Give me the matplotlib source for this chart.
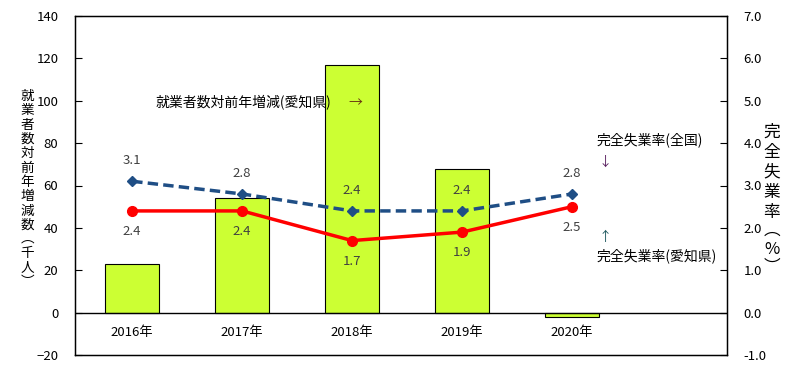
import matplotlib
matplotlib.use('Agg')
import matplotlib.pyplot as plt
import numpy as np

plt.rcParams['font.family'] = ['Noto Sans CJK JP', 'DejaVu Sans']

# データ
years = ['2016年', '2017年', '2018年', '2019年', '2020年']
emp_change = [23, 54, 117, 68, -2]        # 就業者数対前年増減（千人）
rate_zenkoku = [3.1, 2.8, 2.4, 2.4, 2.8]  # 完全失業率（全国）
rate_aichi = [2.4, 2.4, 1.7, 1.9, 2.5]    # 完全失業率（愛知県）

x = np.arange(len(years))

fig = plt.figure(figsize=(8.07, 3.75), dpi=100)
ax = fig.add_axes([75/807, 20/375, 652/807, 339/375])

# 棒グラフ
ax.bar(x, emp_change, width=0.49, color='#CCFF33', edgecolor='black', linewidth=0.8, zorder=2)
ax.axhline(0, color='black', linewidth=1, zorder=3)
ax.set_xlim(-0.52, 5.41)
ax.set_ylim(-20, 140)
ax.set_yticks(range(-20, 141, 20))
ax.set_xticks([])
for i, y in enumerate(years):
    ax.text(i, -9.5, y, ha='center', va='center', fontsize=9.5)
ax.tick_params(axis='y', direction='in', length=5, labelsize=9.5, pad=12)
for s in ax.spines.values():
    s.set_linewidth(1)

# 右軸：完全失業率
ax2 = ax.twinx()
ax2.set_ylim(-1, 7)
ax2.set_yticks(np.arange(-1, 7.01, 1))
ax2.set_yticklabels([f'{v:.1f}' for v in np.arange(-1, 7.01, 1)])
ax2.tick_params(axis='y', direction='in', length=5, labelsize=9.5, pad=12)

ax2.plot(x, rate_zenkoku, color='#1F4E85', linestyle='--', linewidth=2.5,
         marker='D', markersize=5, dashes=(3, 1.5), zorder=4)
ax2.plot(x, rate_aichi, color='#FF0000', linewidth=2.5, marker='o', markersize=7, zorder=5)

for i, v in enumerate(rate_zenkoku):
    ax2.annotate(f'{v:.1f}', (i, v), xytext=(0, 15), textcoords='offset points',
                 ha='center', va='center', fontsize=9.5, color='#404040')
for i, v in enumerate(rate_aichi):
    ax2.annotate(f'{v:.1f}', (i, v), xytext=(0, -15), textcoords='offset points',
                 ha='center', va='center', fontsize=9.5, color='#404040')

# 注記
fig.text(156/807, 1 - 103/375, '就業者数対前年増減(愛知県)', fontsize=10, va='center')
fig.text(348/807, 1 - 103/375, '→', fontsize=10, va='center', color='#6A3A10')
fig.text(597/807, 1 - 140/375, '完全失業率(全国)', fontsize=10, va='center')
fig.text(598/807, 1 - 162/375, '↓', fontsize=9.5, va='center', color='#5A2060')
fig.text(598/807, 1 - 237/375, '↑', fontsize=9.5, va='center', color='#205A60')
fig.text(597/807, 1 - 256/375, '完全失業率(愛知県)', fontsize=10, va='center')


# 軸ラベル（縦書き、1文字ずつ配置）
def vertical_label(xc, ytop, text, size, step, paren_step):
    y = ytop
    for ch in text:
        st = paren_step if ch in '︵︶' else step
        fig.text(xc/807, 1 - (y + st/2)/375, ch, fontsize=size, ha='center', va='center')
        y += st


vertical_label(27, 89, '就業者数対前年増減数︵千人︶', 9.8, 14.3, 14)
vertical_label(772, 122, '完全失業率︵%︶', 12, 20, 17)

fig.savefig('out.png', dpi=100)
